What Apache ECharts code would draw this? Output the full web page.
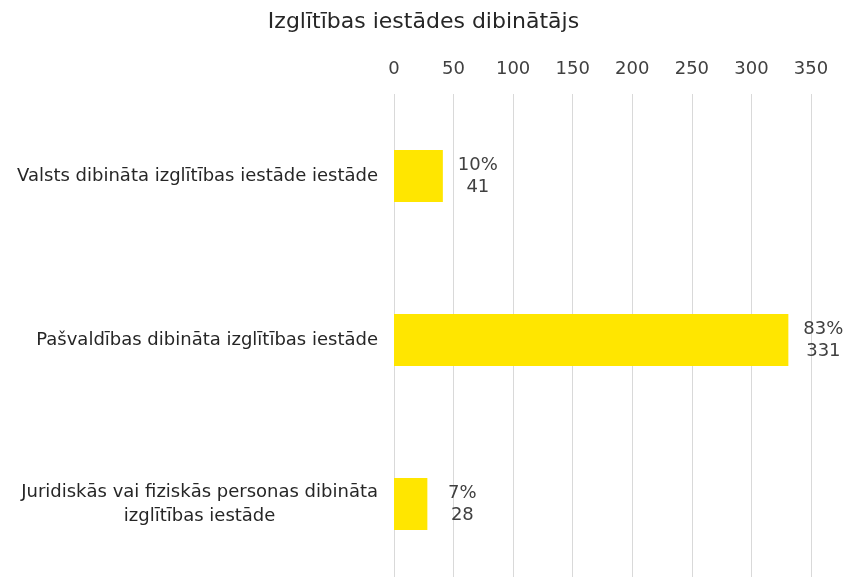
<!DOCTYPE html>
<html>
<head>
<meta charset="utf-8">
<script src="https://cdn.jsdelivr.net/npm/echarts@6/dist/echarts.min.js"></script>
<style>
  html, body { margin: 0; padding: 0; background: #fff; }
  #chart { width: 847px; height: 577px; }
</style>
</head>
<body>
<div id="chart"></div>
<script>
const categories = [
  'Valsts dibināta izglītības iestāde iestāde',
  'Pašvaldības dibināta izglītības iestāde',
  'Juridiskās vai fiziskās personas dibināta\nizglītības iestāde'
];
const counts = [41, 331, 28];
const shares = ['10%', '83%', '7%'];

const font = 'DejaVu Sans';
const chart = echarts.init(document.getElementById('chart'));
chart.setOption({
  animation: false,
  title: {
    text: 'Izglītības iestādes dibinātājs',
    left: 'center',
    top: 6,
    textStyle: { fontFamily: font, fontSize: 22, fontWeight: 'normal', color: '#262626' }
  },
  grid: { left: 394, right: 36, top: 94, height: 492, containLabel: false, outerBoundsMode: 'none' },
  xAxis: {
    type: 'value',
    position: 'top',
    min: 0, max: 350, interval: 50,
    axisLine: { show: false },
    axisTick: { show: false },
    axisLabel: { fontFamily: font, fontSize: 18, color: '#404040', margin: 16 },
    splitLine: { lineStyle: { color: '#d9d9d9', width: 1 } }
  },
  yAxis: {
    type: 'category',
    inverse: true,
    data: categories,
    axisLine: { show: false },
    axisTick: { show: false },
    axisLabel: {
      fontFamily: font, fontSize: 18, color: '#262626', margin: 16, lineHeight: 24,
      formatter: v => v.includes('\n') ? v.split('\n').map(l => '{c|' + l + '}').join('\n') : v,
      rich: { c: { align: 'center', fontFamily: font, fontSize: 18, color: '#262626', lineHeight: 24 } }
    }
  },
  series: [{
    type: 'bar',
    data: counts,
    barWidth: 52,
    itemStyle: { color: '#FFE600' },
    label: {
      show: true,
      position: 'right',
      align: 'center',
      offset: [30, 0],
      fontFamily: font,
      fontSize: 18,
      lineHeight: 22,
      color: '#404040',
      formatter: p => shares[p.dataIndex] + '\n' + p.value
    }
  }]
});
</script>
</body>
</html>
